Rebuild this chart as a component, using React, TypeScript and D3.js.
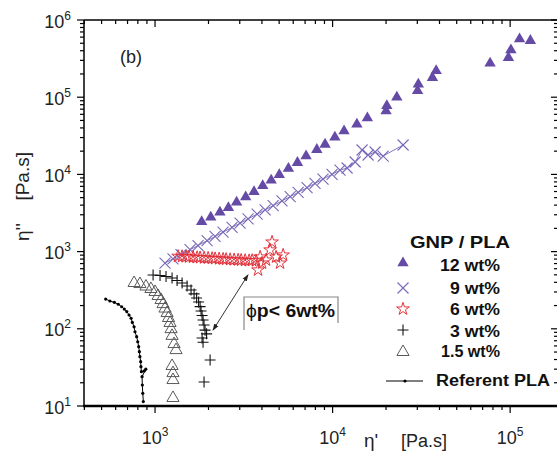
import React from 'react';
import * as d3 from 'd3';

// ---- data: [eta' (Pa.s), eta'' (Pa.s)] ----
const gnp12: [number, number][] = [
  [1830, 2440], [2060, 2780], [2320, 3230], [2590, 3700], [2880, 4350], [3240, 5100],
  [3610, 5970], [4040, 7140], [4510, 8390], [5010, 9910], [5640, 11900], [6340, 14200],
  [7090, 17300], [8150, 20900], [9070, 24500], [10300, 30300], [11600, 36500], [13700, 44600],
  [15700, 53800], [20000, 66200], [20200, 77600], [23000, 99700], [30100, 121000], [30400, 147000],
  [36500, 179000], [38300, 220000], [77100, 275000], [97800, 325000], [101000, 408000],
  [113000, 567000], [130000, 540000],
];
const gnp9: [number, number][] = [
  [1138, 711], [1262, 807], [1400, 916], [1574, 1059], [1746, 1199], [1963, 1384],
  [2178, 1570], [2415, 1783], [2716, 2056], [3013, 2333], [3342, 2655], [3758, 3062],
  [4169, 3467], [4624, 3936], [5188, 4539], [5768, 5152], [6397, 5848], [7178, 6745],
  [7962, 7644], [8831, 8690], [9930, 10020], [11010, 11370], [12070, 12100], [13400, 14480],
  [14660, 20700], [15850, 17830], [17350, 19500], [19270, 17300], [24950, 24040],
];
const gnp6: [number, number][] = [
  [1348, 870], [1420, 865], [1496, 860], [1555, 850], [1638, 848], [1726, 840], [1794, 835],
  [1890, 830], [1991, 825], [2097, 818], [2180, 812], [2296, 808], [2418, 800], [2514, 795],
  [2648, 790], [2789, 785], [2938, 780], [3054, 775], [3217, 770], [3388, 765], [3522, 770],
  [3710, 760], [3908, 851], [4008, 711], [3802, 578], [4218, 778], [4446, 1050], [4561, 1330],
  [4805, 851], [5264, 903], [5060, 711],
];
const gnp3: [number, number][] = [
  [975, 498], [1067, 490], [1153, 476], [1247, 455], [1331, 423], [1420, 392], [1515, 358],
  [1595, 318], [1659, 283], [1714, 251], [1759, 222], [1794, 194], [1816, 170], [1840, 149],
  [1864, 130], [1888, 112], [1913, 96], [1951, 86], [1840, 76], [1864, 67], [2042, 39.5],
  [1888, 20.5],
];
const gnp15: [number, number][] = [
  [762, 392], [822, 380], [889, 353], [948, 328], [1000, 300], [1040, 266], [1081, 236],
  [1110, 209], [1138, 183], [1169, 160], [1191, 138], [1215, 119], [1231, 99], [1247, 81],
  [1280, 63.5], [1313, 53], [1247, 33], [1262, 26.7], [1262, 21.7], [1262, 12.7],
];
const plaRef: [number, number][] = [
  [527, 243], [557, 229], [590, 220], [621, 208], [649, 193], [671, 180], [693, 167],
  [714, 151], [733, 137], [745, 121], [762, 106], [771, 91.6], [788, 79], [799, 68],
  [809, 58.6], [816, 50.5], [822, 43.5], [830, 37.5], [833, 32.3], [838, 27.8], [870, 28.5],
  [887, 30], [845, 24], [848, 18.7], [853, 14.6], [859, 11.4],
];

const xTickExps = [3, 4, 5];
const yTickExps = [1, 2, 3, 4, 5, 6];
const legendTitle = 'GNP / PLA';
const legendLabels = ['12 wt%', '9 wt%', '6 wt%', '3 wt%', '1.5 wt%', 'Referent PLA'];
const annoArrow: [number, number][] = [[2120, 96], [3340, 500]];
const annoBoxAnchor: [number, number] = [3170, 258];
const annoText = ['ϕ', 'p< 6wt%'];

const C12 = '#654aa6';
const C9 = '#7868b6';
const C6 = '#e2313b';
const C3 = '#111';
const C15 = '#5a5a5a';

export default function App() {
  const x = d3.scaleLog().domain([398, 186000]).range([84, 558]);
  const y = d3.scaleLog().domain([10, 1e6]).range([406, 20]);

  const triFilled = d3.symbol(d3.symbolTriangle, 56)() as string;
  const triOpen = d3.symbol(d3.symbolTriangle, 64)() as string;
  const starPath = d3.symbol(d3.symbolStar, 50)() as string;
  const plusPath = 'M-5.5,0H5.5M0,-5.5V5.5';
  const xPath = 'M-5.5,-5.5L5.5,5.5M-5.5,5.5L5.5,-5.5';

  const line = d3.line<[number, number]>().x(d => x(d[0])).y(d => y(d[1]));

  const xt = x.ticks();
  const yt = y.ticks();
  const isMajor = (v: number) => Math.abs(Math.log10(v) - Math.round(Math.log10(v))) < 1e-9;

  const font = "'Liberation Sans', Arial, Helvetica, sans-serif";

  const marker = (kind: number, cx: number, cy: number, key: string | number) => {
    const t = `translate(${cx},${cy})`;
    switch (kind) {
      case 0: return <path key={key} d={triFilled} transform={t} fill={C12} />;
      case 1: return <path key={key} d={xPath} transform={t} fill="none" stroke={C9} strokeWidth={1.1} />;
      case 2: return <path key={key} d={starPath} transform={t} fill="none" stroke={C6} strokeWidth={1} />;
      case 3: return <path key={key} d={plusPath} transform={t} fill="none" stroke={C3} strokeWidth={1.1} />;
      case 4: return <path key={key} d={triOpen} transform={t} fill="none" stroke={C15} strokeWidth={1} />;
      default: return null;
    }
  };

  const legendYs = [263, 288, 309, 330, 352];
  const legendTextY = [271, 294, 315, 337, 357, 386];
  const legendTextX = [440, 450, 450, 450, 441, 436];
  const legendTextLen = [60, 50, 50, 50, 59, 114];

  const ax0: [number, number] = [x(annoArrow[0][0]), y(annoArrow[0][1])];
  const ax1: [number, number] = [x(annoArrow[1][0]), y(annoArrow[1][1])];
  const bx = x(annoBoxAnchor[0]);
  const by = y(annoBoxAnchor[1]);

  return (
    <svg width={557} height={459} style={{ position: 'absolute', left: 0, top: 0, background: '#fff' }} fontFamily={font}>
      <defs>
        <marker id="ah" viewBox="0 0 10 10" refX="9" refY="5" markerWidth="7" markerHeight="7" orient="auto-start-reverse" markerUnits="userSpaceOnUse">
          <path d="M0,1.5L10,5L0,8.5Z" fill="#222" />
        </marker>
      </defs>
      <rect x={0} y={0} width={557} height={459} fill="#fff" />

      {/* data */}
      <path d={line(plaRef) as string} fill="none" stroke="#000" strokeWidth={1} />
      {plaRef.map((d, i) => <circle key={'r' + i} cx={x(d[0])} cy={y(d[1])} r={1.6} fill="#000" />)}
      {gnp15.map((d, i) => marker(4, x(d[0]), y(d[1]), 'a' + i))}
      {gnp3.map((d, i) => marker(3, x(d[0]), y(d[1]), 'b' + i))}
      <path d={line(gnp9) as string} fill="none" stroke={C9} strokeWidth={0.9} />
      {gnp9.map((d, i) => marker(1, x(d[0]), y(d[1]), 'c' + i))}
      {gnp6.map((d, i) => marker(2, x(d[0]), y(d[1]), 'd' + i))}
      {gnp12.map((d, i) => marker(0, x(d[0]), y(d[1]), 'e' + i))}

      {/* frame */}
      <line x1={84} x2={84} y1={20} y2={406} stroke="#000" strokeWidth={1.5} />
      <line x1={84} x2={558} y1={20} y2={20} stroke="#000" strokeWidth={1.5} />
      <line x1={558} x2={558} y1={20} y2={406} stroke="#000" strokeWidth={1.5} />
      <line x1={83} x2={558} y1={406} y2={406} stroke="#000" strokeWidth={2.4} />

      {/* ticks */}
      {xt.map((v, i) => {
        const px = x(v);
        const maj = isMajor(v);
        return (
          <g key={'xt' + i}>
            <line x1={px} x2={px} y1={406} y2={maj ? 413 : 410} stroke="#000" strokeWidth={1.2} />
            <line x1={px} x2={px} y1={20} y2={maj ? 27 : 24} stroke="#000" strokeWidth={1.2} />
          </g>
        );
      })}
      {yt.map((v, i) => {
        const py = y(v);
        const maj = isMajor(v);
        return (
          <g key={'yt' + i}>
            <line x1={maj ? 77 : 80} x2={84} y1={py} y2={py} stroke="#000" strokeWidth={1.2} />
            <line x1={maj ? 551 : 554} x2={558} y1={py} y2={py} stroke="#000" strokeWidth={1.2} />
          </g>
        );
      })}
      {xTickExps.map(e => (
        <text key={'xl' + e} x={x(Math.pow(10, e))} y={444} textAnchor="middle" fontSize={18} fill="#222">
          10<tspan dy={-8} fontSize={12}>{e}</tspan>
        </text>
      ))}
      {yTickExps.map(e => (
        <text key={'yl' + e} x={71} y={y(Math.pow(10, e)) + 7.5} textAnchor="end" fontSize={18} fill="#222">
          10<tspan dy={-8} fontSize={12}>{e}</tspan>
        </text>
      ))}

      {/* axis titles */}
      <text x={364} y={447} fontSize={19} fill="#222">η'</text>
      <text x={447} y={447} fontSize={18} fill="#222" textAnchor="end">[Pa.s]</text>
      <text transform="translate(29,241) rotate(-90)" fontSize={19} fill="#222">η''</text>
      <text transform="translate(29,152) rotate(-90)" fontSize={19} fill="#222" textAnchor="end">[Pa.s]</text>

      <text x={120} y={63} fontSize={18} fill="#222">(b)</text>

      {/* legend */}
      <text x={410} y={248} fontSize={17} fontWeight="bold" fill="#111" textLength={100} lengthAdjust="spacingAndGlyphs">{legendTitle}</text>
      {legendYs.map((ly, i) => marker(i, 403, ly, 'lg' + i))}
      <line x1={386} x2={423} y1={381} y2={381} stroke="#000" strokeWidth={1} />
      <circle cx={405} cy={381} r={1.6} fill="#000" />
      {legendLabels.map((lab, i) => (
        <text key={'lt' + i} x={legendTextX[i]} y={legendTextY[i]} fontSize={16} fontWeight="bold" fill="#111"
          textLength={legendTextLen[i]} lengthAdjust="spacingAndGlyphs">{lab}</text>
      ))}

      {/* annotation */}
      <line x1={ax0[0]} y1={ax0[1]} x2={ax1[0]} y2={ax1[1]} stroke="#333" strokeWidth={1}
        markerStart="url(#ah)" markerEnd="url(#ah)" />
      <path d={`M${bx},${by + 33}V${by}H${bx + 94}V${by + 26}`} fill="none" stroke="#888" strokeWidth={1.2} />
      <text x={bx + 2} y={by + 20} fontSize={19} fill="#111" textLength={89} lengthAdjust="spacingAndGlyphs">
        <tspan>{annoText[0]}</tspan><tspan fontWeight="bold">{annoText[1]}</tspan>
      </text>
    </svg>
  );
}
